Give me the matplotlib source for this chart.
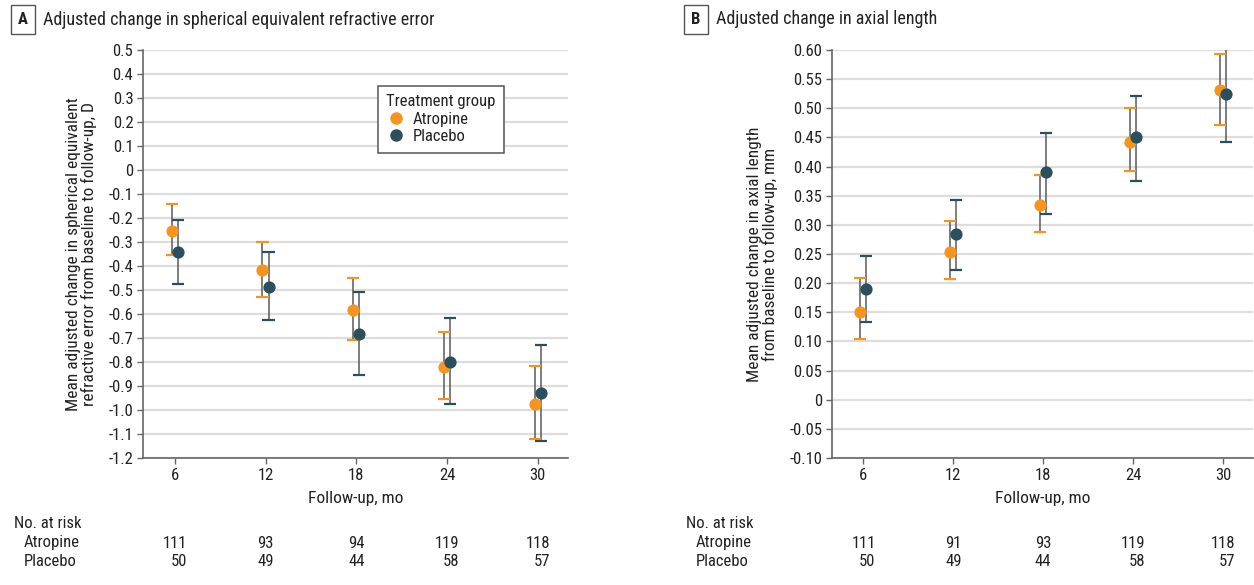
"""Adjusted change in refractive error and axial length, atropine vs placebo."""
import matplotlib.pyplot as plt
from matplotlib import font_manager
from matplotlib.lines import Line2D

# ---- data ----
months = [6, 12, 18, 24, 30]

se_atropine = [-0.253, -0.417, -0.583, -0.821, -0.975]
se_atropine_lo = [-0.354, -0.529, -0.710, -0.954, -1.121]
se_atropine_hi = [-0.143, -0.300, -0.450, -0.676, -0.815]
se_placebo = [-0.342, -0.486, -0.682, -0.799, -0.929]
se_placebo_lo = [-0.474, -0.626, -0.853, -0.974, -1.129]
se_placebo_hi = [-0.210, -0.340, -0.508, -0.615, -0.728]

al_atropine = [0.151, 0.253, 0.334, 0.442, 0.532]
al_atropine_lo = [0.104, 0.207, 0.288, 0.392, 0.472]
al_atropine_hi = [0.209, 0.307, 0.386, 0.500, 0.593]
al_placebo = [0.190, 0.284, 0.390, 0.450, 0.525]
al_placebo_lo = [0.134, 0.223, 0.319, 0.376, 0.442]
al_placebo_hi = [0.247, 0.343, 0.457, 0.521, 0.604]

risk_a_atropine = [111, 93, 94, 119, 118]
risk_a_placebo = [50, 49, 44, 58, 57]
risk_b_atropine = [111, 91, 93, 119, 118]
risk_b_placebo = [50, 49, 44, 58, 57]

se_ticks = [round(0.5 - 0.1 * i, 1) for i in range(18)]
al_ticks = [round(0.60 - 0.05 * i, 2) for i in range(15)]

ORANGE = "#F7941D"
TEAL = "#2C4F5D"
BAR = "#5a5a5a"
TEXT = "#222222"
FS = 12

installed = {f.name for f in font_manager.fontManager.ttflist}
wanted = ["Roboto Condensed", "IBM Plex Sans Condensed", "Fira Sans Condensed"]
plt.rcParams["font.family"] = [f for f in wanted if f in installed][:1] + ["DejaVu Sans"]
plt.rcParams["text.color"] = TEXT
plt.rcParams["axes.labelcolor"] = TEXT

W, H = 1254, 585
fig = plt.figure(figsize=(W / 100, H / 100), dpi=100)


def px_axes(left, top, right, bottom):
    return fig.add_axes([left / W, 1 - bottom / H, (right - left) / W, (bottom - top) / H])


def draw_group(ax, x, y, lo, hi, color, offset):
    xs = [m + offset for m in x]
    ax.vlines(xs, lo, hi, color=BAR, lw=1.1, zorder=3)
    ax.errorbar(xs, lo, fmt="none", xerr=0.4, ecolor=color, elinewidth=1.6, capsize=0, zorder=4)
    ax.errorbar(xs, hi, fmt="none", xerr=0.4, ecolor=color, elinewidth=1.6, capsize=0, zorder=4)


def style_axes(ax, ticks, fmt):
    ax.set_xlim(3.9, 32)
    ax.set_ylim(ticks[-1], ticks[0])
    ax.set_xticks(months)
    ax.set_xticklabels([str(m) for m in months], fontsize=FS)
    ax.set_yticks(ticks)
    ax.set_yticklabels(["0" if t == 0 else fmt.format(t) for t in ticks], fontsize=FS)
    for side in ("top", "right"):
        ax.spines[side].set_visible(False)
    for side in ("left", "bottom"):
        ax.spines[side].set_color("#666666")
        ax.spines[side].set_linewidth(1.2)
    ax.tick_params(axis="both", direction="out", length=4, width=1, color="#666666",
                   labelcolor=TEXT, pad=3)
    ax.grid(True, axis="y", color="#dddddd", lw=1.6, zorder=0)
    ax.set_axisbelow(True)
    ax.set_xlabel("Follow-up, mo", fontsize=FS + 0.5, labelpad=6)


def risk_table(ax, x0, atropine, placebo):
    fig.text(x0 / W, 1 - 528 / H, "No. at risk", fontsize=FS, va="baseline")
    fig.text((x0 + 10) / W, 1 - 547.5 / H, "Atropine", fontsize=FS, va="baseline")
    fig.text((x0 + 10) / W, 1 - 566.5 / H, "Placebo", fontsize=FS, va="baseline")
    tops = []
    for m, n in zip(months, atropine):
        xf = fig.transFigure.inverted().transform(ax.transData.transform((m, 0)))[0]
        tops.append(fig.text(xf, 1 - 547.5 / H, str(n), fontsize=FS, ha="center", va="baseline"))
    fig.canvas.draw()
    renderer = fig.canvas.get_renderer()
    for t, n in zip(tops, placebo):
        right = t.get_window_extent(renderer).x1 / W
        fig.text(right, 1 - 566.5 / H, str(n), fontsize=FS, ha="right", va="baseline")


def panel_title(x0, letter, title):
    fig.text((x0 + 11) / W, 1 - 19.5 / H, letter, fontsize=FS, fontweight="bold",
             ha="center", va="center",
             bbox=dict(boxstyle="square,pad=0.42", fc="white", ec="#555555", lw=1))
    fig.text((x0 + 31) / W, 1 - 19.5 / H, title, fontsize=13, ha="left", va="center")


# ---- panel A ----
ax_a = px_axes(143, 50, 568, 458)
draw_group(ax_a, months, se_atropine, se_atropine_lo, se_atropine_hi, ORANGE, -0.2)
draw_group(ax_a, months, se_placebo, se_placebo_lo, se_placebo_hi, TEAL, 0.2)
ax_a.plot([m - 0.2 for m in months], se_atropine, "o", color=ORANGE, ms=8.8, mec="none", zorder=5)
ax_a.plot([m + 0.2 for m in months], se_placebo, "o", color=TEAL, ms=8.8, mec="none", zorder=6)
style_axes(ax_a, se_ticks, "{:.1f}")
ax_a.set_ylabel("Mean adjusted change in spherical equivalent\n"
                "refractive error from baseline to follow-up, D", fontsize=FS + 0.5,
                labelpad=8, linespacing=1.05)

handles = [Line2D([], [], ls="none", marker="o", ms=9, color=ORANGE, mec="none"),
           Line2D([], [], ls="none", marker="o", ms=9, color=TEAL, mec="none")]
leg = ax_a.legend(handles, ["Atropine", "Placebo"], title="Treatment group",
                  loc="upper left", bbox_to_anchor=(0.553, 0.912), borderaxespad=0,
                  fontsize=FS, title_fontsize=FS, fancybox=False, framealpha=1,
                  edgecolor="#555555", handletextpad=0.4, handlelength=1.2,
                  labelspacing=0.15, borderpad=0.5, alignment="left")
leg.get_frame().set_linewidth(1.1)

# ---- panel B ----
ax_b = px_axes(832, 50, 1253, 458)
draw_group(ax_b, months, al_atropine, al_atropine_lo, al_atropine_hi, ORANGE, -0.2)
draw_group(ax_b, months, al_placebo, al_placebo_lo, al_placebo_hi, TEAL, 0.2)
ax_b.plot([m - 0.2 for m in months], al_atropine, "o", color=ORANGE, ms=8.8, mec="none", zorder=5)
ax_b.plot([m + 0.2 for m in months], al_placebo, "o", color=TEAL, ms=8.8, mec="none", zorder=6)
style_axes(ax_b, al_ticks, "{:.2f}")
ax_b.set_ylabel("Mean adjusted change in axial length\n"
                "from baseline to follow-up, mm", fontsize=FS + 0.5, labelpad=8,
                linespacing=1.05)

panel_title(12, "A", "Adjusted change in spherical equivalent refractive error")
panel_title(685, "B", "Adjusted change in axial length")

risk_table(ax_a, 14, risk_a_atropine, risk_a_placebo)
risk_table(ax_b, 686, risk_b_atropine, risk_b_placebo)

fig.savefig("out.png", dpi=100)
plt.close(fig)
